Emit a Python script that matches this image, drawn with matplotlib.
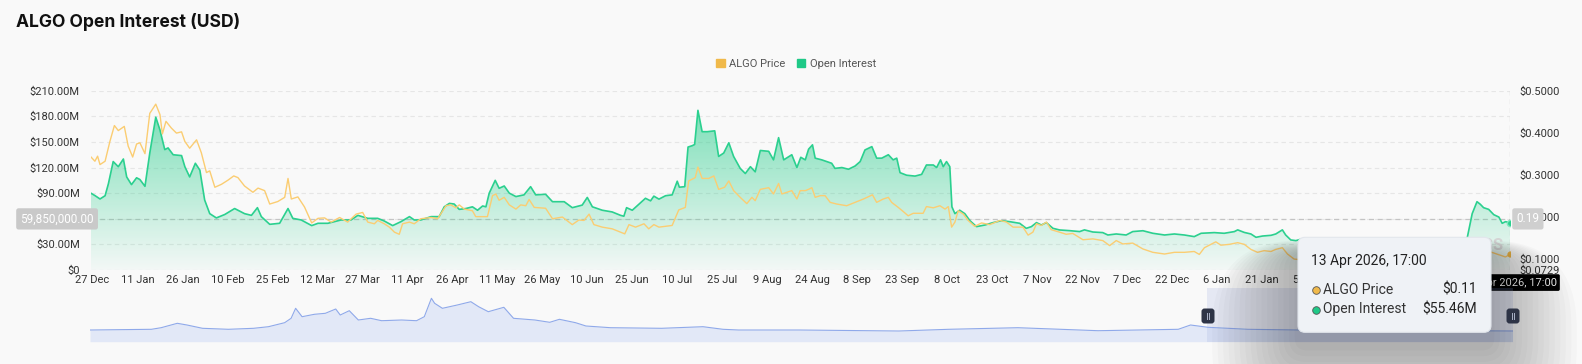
import numpy as np
import pandas as pd
import matplotlib
matplotlib.use('Agg')
import matplotlib.pyplot as plt
import matplotlib.dates as mdates
import matplotlib.transforms as mtransforms
from matplotlib.patches import FancyBboxPatch, Patch

plt.rcParams['font.family'] = ['Roboto', 'DejaVu Sans']

start = pd.Timestamp('2024-12-27')
end = pd.Timestamp('2026-04-13 17:00')

# open interest, day offset from 27 Dec 2024 and value in $M
oi_day = [-0.5, 0.8, 2.5, 4.2, 5.3, 6.9, 8.6, 10.3, 11.4, 13.0, 14.7, 15.8, 17.5, 19.1, 21.1,
          22.5, 24.1, 25.2, 26.9, 29.7, 30.8, 32.4, 34.3, 35.8, 37.4, 39.1, 41.3, 44.1, 47.4,
          50.7, 53.0, 55.0, 56.3, 59.1, 62.4, 65.2, 66.8, 69.6, 73.1, 75.2, 78.5, 82.9, 86.2,
          88.5, 91.8, 95.1, 97.3, 100.1, 102.9, 105.7, 107.3, 109.5, 112.9, 115.6, 117.3,
          119.0, 120.6, 122.3, 124.5, 126.7, 128.4, 130.1, 131.2, 132.3, 134.3, 135.6, 137.3,
          139.0, 141.2, 143.9, 146.1, 147.8, 151.1, 153.4, 157.3, 160.0, 163.3, 165.0, 166.7,
          170.0, 173.3, 176.1, 177.2, 178.1, 180.0, 182.2, 184.4, 186.1, 187.2, 188.9, 191.1,
          193.3, 195.0, 195.7, 197.5, 198.6, 200.0, 200.8, 201.9, 203.3, 205.0, 207.5, 208.8,
          210.5, 212.2, 213.8, 216.0, 217.7, 219.4, 221.0, 222.7, 225.5, 227.1, 228.8, 230.5,
          233.2, 234.9, 236.2, 237.7, 238.8, 240.1, 241.0, 243.2, 244.9, 246.5, 247.6, 249.9,
          252.1, 254.3, 256.0, 257.6, 259.9, 261.5, 263.2, 265.4, 267.0, 268.2, 269.3, 271.5,
          274.3, 276.5, 278.1, 280.4, 281.5, 282.8, 283.7, 284.8, 285.9, 286.6, 287.6, 289.2,
          290.9, 292.6, 294.8, 297.6, 300.3, 303.1, 305.9, 309.2, 311.4, 313.1, 314.8, 316.4,
          318.1, 320.3, 322.5, 325.8, 329.2, 330.8, 333.6, 336.9, 338.6, 341.4, 344.7, 346.9,
          350.3, 353.6, 357.5, 360.8, 364.1, 367.4, 369.7, 374.1, 377.4, 380.8, 381.9, 384.1,
          386.3, 388.0, 390.2, 393.0, 394.6, 396.8, 397.9, 399.6, 401.3, 402.9, 407.0, 412.0,
          418.0, 424.0, 430.0, 436.0, 442.0, 448.0, 454.0, 458.4, 460.1, 461.7, 462.8, 463.9,
          465.6, 467.3, 469.0, 470.1, 471.2, 472.7]
oi_val = [89.9, 87.2, 83.2, 87, 101, 127, 121, 130, 109, 100, 108, 106, 98, 137, 179,
          164, 141, 143, 135, 134, 121, 109, 125, 117, 82, 66, 61, 65, 72,
          66, 64, 73, 62.5, 53.5, 54.7, 72, 60.5, 58.6, 52, 54.7, 54.7, 58.6, 58.6,
          64, 60.5, 60.5, 57.4, 52, 56.7, 62.5, 58.6, 58.6, 62.5, 62.5, 74,
          78, 77.3, 71, 72, 74, 70, 75, 74, 90, 105, 95.7, 98.4,
          90, 86, 88, 97.6, 88, 88.7, 80, 80, 73, 76, 85, 74,
          70, 68, 64, 63, 73, 70, 77, 84, 81, 86.5, 83, 87,
          88, 104, 97, 97.6, 144, 145.6, 147, 187, 162, 162, 163, 133,
          137, 149, 133, 119, 113, 121, 115, 140, 139, 129, 155, 129,
          135, 120, 132, 129, 141.5, 146.6, 131, 129, 127, 125, 119, 120,
          118, 121.8, 127, 140.6, 144.5, 131, 131, 135, 129, 131, 114, 111,
          110, 112, 123, 123, 120, 129, 121, 127, 121, 74, 66, 70,
          66, 57.8, 50.8, 52.7, 55.5, 57.8, 56.6, 54.7, 48.8, 50.8, 55.5, 52.7,
          55.5, 48.8, 46.9, 46.1, 45, 47, 44.5, 43.8, 41, 42.2, 41, 45,
          46, 43, 41, 42.2, 41, 39.1, 43, 43.8, 43, 45, 47, 44,
          42.2, 38.3, 39.8, 40.6, 42.2, 47, 41, 35.2, 34.4, 36, 35, 36,
          34, 33, 35, 34, 33, 34, 35, 37, 66, 80, 77, 73,
          71, 64.8, 62, 54.7, 56.6, 55.46]

# ALGO price, day offset from 27 Dec 2024 and value in $
price_day = [-0.5, 0.8, 1.7, 2.5, 4.2, 5.8, 7.3, 8.6, 10.6, 11.9, 13.4, 14.7, 15.8, 17.5,
             19.1, 21.1, 22.5, 23.3, 24.5, 26.3, 28.0, 29.7, 30.8, 32.4, 34.7, 36.3, 38.0,
             39.1, 40.8, 43.0, 45.2, 47.1, 48.5, 50.7, 53.5, 55.2, 57.4, 59.1, 61.8, 64.1,
             65.2, 66.3, 68.5, 70.7, 73.1, 75.2, 77.4, 79.6, 82.4, 85.1, 87.9, 90.1, 91.8,
             94.0, 95.1, 97.3, 99.0, 100.7, 102.3, 103.4, 105.7, 107.3, 109.5, 112.9, 115.1,
             117.9, 119.5, 121.2, 122.3, 124.0, 126.7, 127.8, 131.7, 133.4, 134.5, 135.6,
             137.3, 139.0, 141.2, 142.8, 144.5, 145.6, 147.3, 151.1, 153.4, 156.7, 160.0,
             162.2, 163.9, 165.6, 167.2, 170.0, 173.3, 176.1, 177.5, 178.9, 181.1, 183.9,
             185.5, 187.2, 188.9, 193.3, 195.5, 197.7, 198.8, 201.0, 201.9, 203.3, 205.5,
             207.2, 208.8, 210.8, 212.2, 213.8, 216.0, 218.2, 219.9, 221.0, 222.7, 225.5,
             227.1, 228.8, 229.9, 233.2, 234.9, 236.0, 237.7, 238.8, 239.9, 241.0, 242.7,
             244.3, 246.0, 248.2, 251.5, 254.3, 257.1, 260.1, 261.5, 263.7, 265.4, 266.5,
             268.7, 270.4, 272.0, 273.7, 277.0, 278.1, 280.4, 282.6, 284.3, 285.4, 286.5,
             287.6, 288.7, 290.4, 292.0, 294.2, 296.5, 299.2, 302.6, 304.8, 307.0, 310.3,
             312.0, 313.6, 314.8, 316.4, 318.1, 319.7, 322.5, 324.7, 326.9, 330.3, 333.6,
             336.9, 339.2, 341.4, 343.6, 346.9, 350.3, 353.6, 357.5, 360.8, 364.1, 367.4,
             369.1, 370.8, 373.0, 374.6, 376.3, 379.1, 381.9, 384.1, 386.3, 388.5, 390.7,
             393.0, 394.6, 396.8, 398.5, 400.7, 406.0, 412.0, 418.0, 424.0, 430.0, 436.0,
             442.0, 448.0, 454.0, 460.0, 466.2, 469.5, 471.2, 472.7]
price_val = [0.342, 0.332, 0.344, 0.324, 0.332, 0.379, 0.417, 0.405, 0.415, 0.368, 0.342,
             0.373, 0.376, 0.350, 0.446, 0.468, 0.443, 0.397, 0.427, 0.411, 0.399, 0.402,
             0.379, 0.363, 0.383, 0.352, 0.305, 0.309, 0.270, 0.277, 0.287, 0.297, 0.293,
             0.273, 0.258, 0.268, 0.262, 0.230, 0.236, 0.246, 0.291, 0.242, 0.247, 0.223,
             0.185, 0.196, 0.197, 0.187, 0.198, 0.187, 0.206, 0.210, 0.187, 0.183, 0.191,
             0.183, 0.175, 0.163, 0.158, 0.183, 0.187, 0.183, 0.195, 0.198, 0.195,
             0.226, 0.228, 0.221, 0.228, 0.218, 0.214, 0.200, 0.200, 0.250, 0.254, 0.239,
             0.246, 0.228, 0.218, 0.228, 0.226, 0.241, 0.222, 0.220, 0.195, 0.199, 0.181,
             0.192, 0.191, 0.206, 0.181, 0.175, 0.171, 0.163, 0.159, 0.181, 0.175, 0.183,
             0.171, 0.181, 0.175, 0.179, 0.216, 0.222, 0.285, 0.293, 0.318, 0.291, 0.291,
             0.297, 0.265, 0.270, 0.285, 0.262, 0.246, 0.231, 0.246, 0.238, 0.265, 0.269,
             0.254, 0.279, 0.254, 0.262, 0.242, 0.262, 0.262, 0.265, 0.269, 0.246, 0.250,
             0.250, 0.234, 0.230, 0.226, 0.234, 0.242, 0.252, 0.234, 0.242, 0.246, 0.234,
             0.222, 0.212, 0.202, 0.208, 0.208, 0.224, 0.221, 0.226, 0.218, 0.224, 0.175,
             0.187, 0.214, 0.206, 0.191, 0.177, 0.185, 0.181, 0.191, 0.187, 0.175, 0.175,
             0.156, 0.163, 0.183, 0.179, 0.187, 0.169, 0.163, 0.158, 0.160, 0.145, 0.147,
             0.143, 0.131, 0.143, 0.135, 0.137, 0.123, 0.115, 0.111, 0.115, 0.115, 0.117,
             0.110, 0.126, 0.134, 0.140, 0.132, 0.134, 0.138, 0.134, 0.122, 0.115, 0.119,
             0.117, 0.122, 0.126, 0.111, 0.099, 0.095, 0.092, 0.090, 0.088, 0.092, 0.089,
             0.087, 0.090, 0.093, 0.112, 0.116, 0.108, 0.104, 0.110]

# navigator (full history overview)
nav_date = ['2020-04-04', '2020-07-08', '2020-07-23', '2020-08-17', '2020-09-01', '2020-09-25',
            '2020-11-04', '2020-12-13', '2021-01-05', '2021-01-30', '2021-02-09', '2021-02-16',
            '2021-02-26', '2021-03-17', '2021-04-03', '2021-04-19', '2021-04-26', '2021-05-10',
            '2021-05-24', '2021-06-12', '2021-06-29', '2021-07-30', '2021-08-22', '2021-09-03',
            '2021-09-14', '2021-09-19', '2021-10-01', '2021-10-24', '2021-11-14', '2021-11-26',
            '2021-12-11', '2022-01-04', '2022-01-19', '2022-02-21', '2022-03-16', '2022-03-31',
            '2022-04-25', '2022-05-11', '2022-06-18', '2022-09-05', '2022-11-08', '2022-12-09',
            '2023-01-02', '2023-04-05', '2023-09-07', '2023-11-23', '2024-03-09', '2024-07-11',
            '2024-11-12', '2024-12-01', '2024-12-28', '2025-02-28', '2025-05-17', '2026-04-13']
nav_val = [117, 124, 140, 184, 167, 134, 124, 134, 150, 190, 234, 334,
           250, 274, 284, 327, 267, 310, 217, 234, 210, 217, 210, 250,
           434, 384, 334, 367, 400, 350, 300, 344, 234, 217, 194, 224,
           190, 157, 140, 134, 150, 124, 117, 117, 107, 124, 140, 110,
           124, 167, 144, 124, 117, 107]

x_ticks = pd.date_range('2024-12-27', '2026-04-13', freq='15D')
oi_ticks = [0, 30, 60, 90, 120, 150, 180, 210]
price_ticks = [0.0729, 0.1, 0.2, 0.3, 0.4, 0.5]

hover_oi = 59.85
hover_price = '0.19'
tip_title = '13 Apr 2026, 17:00'
tip_price = '$0.11'
tip_oi = '$55.46M'

green = '#2bd08f'
green_rgb = (0.16, 0.81, 0.55)
yellow = '#fbcd72'
bg = '#f9f9f9'
W, H = 1582, 364

oi_dates = start + pd.to_timedelta(oi_day, unit='D')
price_dates = start + pd.to_timedelta(price_day, unit='D')
x_left = start - pd.Timedelta(hours=12)

fig = plt.figure(figsize=(W / 100, H / 100), dpi=100, facecolor=bg)
ax = fig.add_axes([91 / W, 1 - 270 / H, (1510 - 91) / W, (270 - 90.7) / H])
ax.set_facecolor('none')
ax2 = ax.twinx()
ax2.set_facecolor('none')

# open interest area with vertical gradient
ax.plot(oi_dates, oi_val, color=green, lw=1.2, zorder=3, solid_joinstyle='round')
poly = ax.fill_between(oi_dates, oi_val, 0, facecolor='none', edgecolor='none')
grad = np.zeros((256, 1, 4))
grad[..., 0], grad[..., 1], grad[..., 2] = green_rgb
grad[:, 0, 3] = np.linspace(0.6, 0.03, 256)
x0, x1 = mdates.date2num(x_left), mdates.date2num(end)
im = ax.imshow(grad, extent=[x0, x1, 0, 190], aspect='auto', origin='upper', zorder=2)
im.set_clip_path(poly.get_paths()[0], transform=ax.transData)
ax.plot([end], [oi_val[-1]], 'o', color=green, ms=4.5, mec='#7fe6bd', mew=1, zorder=4)

ax2.plot(price_dates, price_val, color=yellow, lw=1.0, zorder=3, solid_joinstyle='round')
ax2.plot([end], [price_val[-1]], 'o', color='#f0b94a', ms=3.5, zorder=4)

ax.set_xlim(x_left, end)
ax.set_ylim(0, 210)
ax2.set_ylim(0.0729, 0.5)

ax.set_yticks(oi_ticks)
ax.set_yticklabels(['$0'] + ['$%.2fM' % v for v in oi_ticks[1:]])
ax2.set_yticks(price_ticks)
ax2.set_yticklabels(['$%.4f' % v for v in price_ticks])
ax.set_xticks(x_ticks)
ax.xaxis.set_major_formatter(mdates.DateFormatter('%-d %b'))

for a in (ax, ax2):
    for s in a.spines.values():
        s.set_visible(False)
    a.tick_params(length=0, labelsize=8, labelcolor='#333333')
ax.tick_params(axis='y', pad=8)
ax.tick_params(axis='x', pad=3.5)
ax2.tick_params(axis='y', pad=7)
ax.yaxis.grid(True, linestyle=(0, (4, 3)), color='#e6e6e6', lw=0.8)
ax.set_axisbelow(True)

# crosshair
ax.axhline(hover_oi, color='#c4c4c4', lw=0.9, ls=(0, (4, 3)), zorder=1)
ax.axvline(end, color='#c4c4c4', lw=0.9, ls=(0, (4, 3)), zorder=1)
tr_l = mtransforms.blended_transform_factory(ax.transAxes, ax.transData)
ax.text(0.002, hover_oi, f'{hover_oi * 1e6:,.2f}', transform=tr_l, ha='right', va='center',
        fontsize=8.5, color='white',
        bbox=dict(boxstyle='round,pad=0.35,rounding_size=0.2', fc='#c9c9c9', ec='none'))
ax2.text(1.0045, hover_oi / 210, hover_price, transform=ax2.transAxes, ha='left', va='center',
         fontsize=8.5, color='white', zorder=6,
         bbox=dict(boxstyle='round,pad=0.35,rounding_size=0.2', fc='#cfcfcf', ec='none'))
tr_x = mtransforms.blended_transform_factory(ax2.transData, ax2.transAxes)
ax2.text(mdates.date2num(end), -0.07, tip_title, transform=tr_x, ha='center', va='center',
         fontsize=8, color='white', zorder=6,
         bbox=dict(boxstyle='round,pad=0.3,rounding_size=0.15', fc='black', ec='none'))

# watermark (mostly hidden by tooltip)
ax.text(0.9955, 0.135, 'COINGLASS', transform=ax.transAxes, ha='right', va='center',
        fontsize=12, fontweight='bold', color='#d4d4d4', zorder=2)

# title and legend
fig.text(16 / W, 1 - 22 / H, 'ALGO Open Interest (USD)', fontsize=12.6, fontweight='bold',
         family=['Inter', 'DejaVu Sans'], color='#111111', va='center', ha='left')
fig.legend(handles=[Patch(color='#f0b94a', label='ALGO Price'),
                    Patch(color='#1fc987', label='Open Interest')],
           loc='center', bbox_to_anchor=(796 / W, 1 - 64 / H), ncol=2, frameon=False,
           fontsize=8, labelcolor='#555555', handlelength=0.8, handleheight=0.8,
           handletextpad=0.4, columnspacing=1.0)

# navigator
nav = fig.add_axes([90 / W, 1 - 341.7 / H, (1513 - 90) / W, (341.7 - 288) / H])
nav.set_facecolor('none')
nd = pd.to_datetime(nav_date)
nav.fill_between(nd, nav_val, 0, color='#e2e8f7', lw=0)
nav.plot(nd, nav_val, color='#8fa9ea', lw=0.8)
nav.axvspan(start, end, color='#9fb0e0', alpha=0.22, lw=0)
nav.set_xlim(nd[0], end)
nav.set_ylim(0, 537)
nav.axis('off')

# overlay in pixel units for tooltip, shadow and handles
ov = fig.add_axes([0, 0, 1, 1], zorder=20)
ov.set_xlim(0, W)
ov.set_ylim(H, 0)
ov.axis('off')
ov.patch.set_alpha(0)

for i in range(16):
    g = 3 + i * 5
    ov.add_patch(FancyBboxPatch((1298 - g * 1.1, 252 - g * 0.15), 193 + 2.2 * g, 95 + g * 1.3,
                                boxstyle='round,pad=0,rounding_size=%d' % (10 + g),
                                fc='black', ec='none', alpha=0.02, zorder=1))

for hx in (1208, 1513):
    ov.add_patch(FancyBboxPatch((hx - 6.5, 308.5), 13, 15, boxstyle='round,pad=0,rounding_size=3',
                                fc='#2e3446', ec='none', zorder=3))
    ov.plot([hx - 1.3, hx - 1.3], [313, 319], color='#aab2c8', lw=0.7, zorder=4)
    ov.plot([hx + 1.3, hx + 1.3], [313, 319], color='#aab2c8', lw=0.7, zorder=4)

ov.add_patch(FancyBboxPatch((1298, 237.3), 193, 95, boxstyle='round,pad=0,rounding_size=7',
                            fc='#eff2f6', ec='#e2e6ec', lw=0.8, zorder=5))
ov.text(1311, 261.5, tip_title, fontsize=10, color='#222222', va='center', ha='left', zorder=6)
ov.scatter([1316], [289.5], s=30, color='#f0b94a', edgecolors='#555555', linewidths=0.6, zorder=6)
ov.scatter([1316], [309.5], s=30, color='#1fc987', edgecolors='#555555', linewidths=0.6, zorder=6)
ov.text(1323, 289.5, 'ALGO Price', fontsize=10, color='#333333', va='center', ha='left', zorder=6)
ov.text(1323, 309.5, 'Open Interest', fontsize=10, color='#333333', va='center', ha='left', zorder=6)
ov.text(1477, 289.5, tip_price, fontsize=10, color='#222222', va='center', ha='right', zorder=6)
ov.text(1477, 309.5, tip_oi, fontsize=10, color='#222222', va='center', ha='right', zorder=6)

fig.savefig('out.png', dpi=100, facecolor=bg)
